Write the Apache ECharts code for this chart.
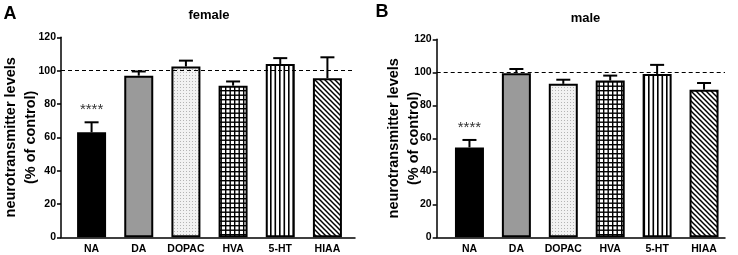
<!DOCTYPE html>
<html>
<head>
<meta charset="utf-8">
<script src="https://cdn.jsdelivr.net/npm/echarts@6/dist/echarts.min.js"></script>
<style>html,body{margin:0;padding:0;background:#fff}#c{width:738px;height:255px}</style>
</head>
<body>
<div id="c"></div>
<script>
// ---- data ----
const categories = ['NA', 'DA', 'DOPAC', 'HVA', '5-HT', 'HIAA'];
const femaleMean = [63, 97, 102.5, 91, 104, 95.5];
const femaleUpper = [69, 99.5, 106, 93.5, 107.5, 108];
const maleMean = [54.5, 99.5, 93, 95, 99, 89.5];
const maleUpper = [59, 102, 95.5, 98, 104.5, 93.5];
const sigLabels = ['****', '', '', '', '', ''];
const yMin = 0, yMax = 120, yInterval = 20;
const referenceLevel = 100;
const panelTitles = ['female', 'male'];
const panelLetters = ['A', 'B'];
const yAxisTitle = 'neurotransmitter levels\n(% of control)';

// ---- styles ----
const FONT = '"Liberation Sans", Arial, Helvetica, sans-serif';
function pat(w, h, draw) {
  const c = document.createElement('canvas');
  c.width = w; c.height = h;
  const g = c.getContext('2d');
  g.fillStyle = '#fff'; g.fillRect(0, 0, w, h);
  draw(g);
  return { image: c, repeat: 'repeat' };
}
const fills = [
  '#000000',
  '#9a9a9a',
  pat(3, 3, g => { g.fillStyle = '#f2f2f2'; g.fillRect(0,0,3,3); g.fillStyle = '#b4b4b4'; g.fillRect(0, 0, 1, 1); }),
  pat(9, 9, g => { g.fillStyle = '#000'; g.fillRect(0, 0, 9, 1.4); g.fillRect(0, 4.5, 9, 1.4); g.fillRect(0, 0, 1.4, 9); g.fillRect(4.5, 0, 1.4, 9); }),
  pat(9, 2, g => { g.fillStyle = '#000'; g.fillRect(0, 0, 1.6, 2); g.fillRect(4.5, 0, 1.6, 2); }),
  pat(5, 5, g => { g.strokeStyle = '#000'; g.lineWidth = 1.5; [-5, 0, 5].forEach(k => { g.beginPath(); g.moveTo(k - 1, -1); g.lineTo(k + 6, 6); g.stroke(); }); })
];

const frames = [
  { left: 58, right: 383, top: 37.3, bottom: 17.7, nameGap: 20 },
  { left: 436.7, right: 13, top: 39.3, bottom: 17.7, nameGap: 13 }
];
const dataGrids = [
  { left: 68, right: 387 },
  { left: 446, right: 10.5 }
];

const grid = [], xAxis = [], yAxis = [], series = [];
[[femaleMean, femaleUpper], [maleMean, maleUpper]].forEach((d, p) => {
  const fr = frames[p], dg = dataGrids[p];
  const fi = p * 2, di = p * 2 + 1;
  grid.push({ left: fr.left, right: fr.right, top: fr.top, bottom: fr.bottom });
  grid.push({ left: dg.left, right: dg.right, top: fr.top, bottom: fr.bottom });
  // frame axes
  xAxis.push({ type: 'value', gridIndex: fi, min: 0, max: 1,
    axisLine: { show: true, onZero: false, lineStyle: { color: '#000', width: 1.5 } },
    axisTick: { show: false }, axisLabel: { show: false }, splitLine: { show: false } });
  yAxis.push({ type: 'value', gridIndex: fi, min: yMin, max: yMax, interval: yInterval,
    name: yAxisTitle, nameLocation: 'middle', nameRotate: 90, nameGap: fr.nameGap, nameMoveOverlap: false,
    nameTextStyle: { fontFamily: FONT, fontWeight: 'bold', fontSize: 14.5, color: '#000', lineHeight: 20 },
    axisLine: { show: true, onZero: false, lineStyle: { color: '#000', width: 1.5 } },
    axisTick: { show: true, length: 4, lineStyle: { color: '#000', width: 1.5 } },
    axisLabel: { fontFamily: FONT, fontWeight: 'bold', fontSize: 10.5, color: '#000', margin: 5 },
    splitLine: { show: false } });
  // data axes
  xAxis.push({ type: 'category', gridIndex: di, data: categories,
    axisLine: { show: false }, axisTick: { show: false },
    axisLabel: { interval: 0, fontFamily: FONT, fontWeight: 'bold', fontSize: 10.5, color: '#000', margin: 6 } });
  yAxis.push({ type: 'value', gridIndex: di, min: yMin, max: yMax, show: false, splitLine: { show: false } });

  series.push({ type: 'line', xAxisIndex: fi, yAxisIndex: fi, data: [], silent: true,
    markLine: { silent: true, symbol: 'none', label: { show: false },
      lineStyle: { type: [4, 3], color: '#000', width: 1 },
      data: [{ yAxis: referenceLevel }] } });
  series.push({ type: 'bar', xAxisIndex: di, yAxisIndex: di, barWidth: 29, silent: true,
    data: d[0].map((v, i) => ({ value: v, itemStyle: { color: fills[i], borderColor: '#000', borderWidth: 2 } })) });
  series.push({ type: 'custom', xAxisIndex: di, yAxisIndex: di, silent: true, z: 5,
    data: d[0].map((v, i) => [i, v, d[1][i], sigLabels[i]]),
    renderItem: (params, api) => {
      const top = api.coord([api.value(0), api.value(1)]);
      const up = api.coord([api.value(0), api.value(2)]);
      const sig = sigLabels[params.dataIndex];
      const st = { stroke: '#000', lineWidth: 2 };
      const children = [
        { type: 'line', shape: { x1: top[0], y1: top[1], x2: up[0], y2: up[1] }, style: st },
        { type: 'line', shape: { x1: up[0] - 7, y1: up[1], x2: up[0] + 7, y2: up[1] }, style: st }
      ];
      if (sig) children.push({ type: 'text', style: { text: sig, x: up[0], y: up[1] - 12,
        align: 'center', verticalAlign: 'middle', fontFamily: FONT, fontSize: 15, fill: '#333' } });
      return { type: 'group', children };
    } });
});

const graphic = [
  { type: 'text', x: 10, y: 14, style: { text: panelLetters[0], font: 'bold 18px ' + FONT, fill: '#000', align: 'center', verticalAlign: 'middle' } },
  { type: 'text', x: 209, y: 15.5, style: { text: panelTitles[0], font: 'bold 13px ' + FONT, fill: '#000', align: 'center', verticalAlign: 'middle' } },
  { type: 'text', x: 382, y: 12.5, style: { text: panelLetters[1], font: 'bold 18px ' + FONT, fill: '#000', align: 'center', verticalAlign: 'middle' } },
  { type: 'text', x: 585.5, y: 18, style: { text: panelTitles[1], font: 'bold 13px ' + FONT, fill: '#000', align: 'center', verticalAlign: 'middle' } }
];

const chart = echarts.init(document.getElementById('c'), null, { renderer: 'canvas' });
chart.setOption({ animation: false, backgroundColor: '#fff', grid, xAxis, yAxis, series, graphic });
</script>
</body>
</html>
